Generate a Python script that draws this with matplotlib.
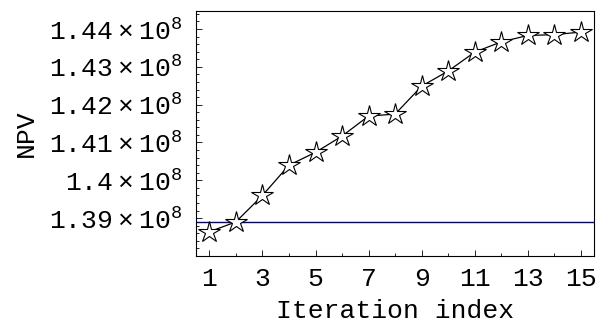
import numpy as np
import matplotlib
matplotlib.use("Agg")
import matplotlib.pyplot as plt
from matplotlib.ticker import FixedLocator, MultipleLocator

plt.rcParams['font.family'] = ['Liberation Mono', 'DejaVu Sans']
plt.rcParams['mathtext.fontset'] = 'custom'
plt.rcParams['mathtext.rm'] = 'Liberation Mono'
plt.rcParams['mathtext.default'] = 'rm'

# data (NPV per iteration)
iterations = np.arange(1, 16)
npv = np.array([1.3864, 1.3890, 1.3960, 1.4040, 1.4074, 1.4117, 1.4170, 1.4175,
                1.4249, 1.4289, 1.4339, 1.4366, 1.4383, 1.4385, 1.4392]) * 1e8
baseline = 1.389e8
ytick_vals = [1.39e8, 1.40e8, 1.41e8, 1.42e8, 1.43e8, 1.44e8]
ytick_labels = [r'$1.39\times10^{8}$', r'$1.4\times10^{8}$', r'$1.41\times10^{8}$',
                r'$1.42\times10^{8}$', r'$1.43\times10^{8}$', r'$1.44\times10^{8}$']
xtick_vals = [1, 3, 5, 7, 9, 11, 13, 15]

fig = plt.figure(figsize=(5.96, 3.29), dpi=100)
ax = fig.add_axes([0.329, 0.222, 0.668, 0.745])

ax.axhline(baseline, color='#000080', lw=1.0, zorder=1)
ax.plot(iterations, npv, color='black', lw=0.9, marker='*', ms=16,
        mfc='white', mec='black', mew=0.8, zorder=2)

ax.set_xlim(0.5, 15.5)
ax.set_ylim(1.38e8, 1.4448e8)
ax.xaxis.set_major_locator(FixedLocator(xtick_vals))
ax.xaxis.set_minor_locator(MultipleLocator(1))
ax.set_xticklabels([str(v) for v in xtick_vals])
ax.yaxis.set_major_locator(FixedLocator(ytick_vals))
ax.yaxis.set_minor_locator(MultipleLocator(0.002e8))
ax.set_yticklabels(ytick_labels)

ax.tick_params(which='both', direction='in', top=False, right=False,
               labelsize=19, width=0.6, pad=10)
ax.tick_params(axis='x', pad=8)
ax.tick_params(which='major', length=4)
ax.tick_params(which='minor', length=2)
for s in ax.spines.values():
    s.set_linewidth(0.8)

ax.set_xlabel('Iteration index', fontsize=19, labelpad=6)
ax.set_ylabel('NPV', fontsize=19, labelpad=8)

fig.savefig('out.png', dpi=100)
